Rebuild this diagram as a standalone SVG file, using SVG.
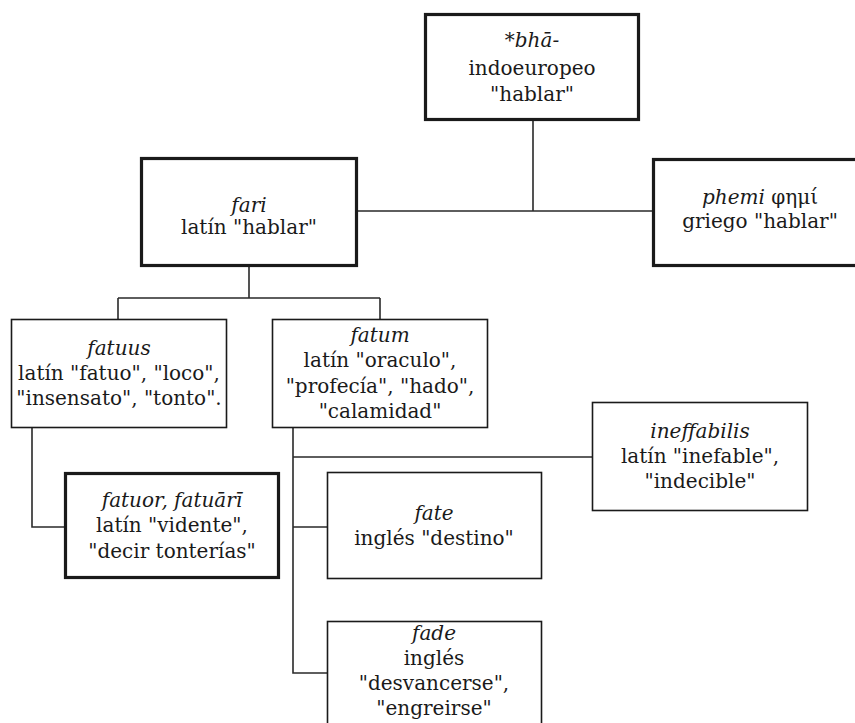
<svg xmlns="http://www.w3.org/2000/svg" width="855" height="723" viewBox="0 0 855 723">
<style>
.box{fill:#fff;stroke:#1a1a1a;stroke-width:1.6}
.thick{stroke-width:3.2}
.ln{fill:none;stroke:#2a2a2a;stroke-width:1.6}
text{font-family:"DejaVu Serif","Liberation Serif",serif;font-size:20px;fill:#1a1a1a;text-anchor:middle}
.i{font-style:italic}
</style>
<rect width="855" height="723" fill="#fff"/>
<g id="connectors">
<path class="ln" d="M533 121V211M358 211H652"/>
<path class="ln" d="M249 267V298M118 298H380M118 298V319M380 298V319"/>
<path class="ln" d="M32 428V527H64"/>
<path class="ln" d="M293 428V673H327M293 457H592M293 527H327"/>
</g>
<g id="n-bha">
<rect class="box thick" x="425.5" y="14.5" width="213" height="105"/>
<text x="532" y="47"><tspan class="i">*bhā-</tspan></text>
<text x="532" y="75">indoeuropeo</text>
<text x="532" y="101">"hablar"</text>
</g>
<g id="n-fari">
<rect class="box thick" x="141.5" y="158.5" width="215" height="107"/>
<text x="249" y="212" class="i">fari</text>
<text x="249" y="234">latín "hablar"</text>
</g>
<g id="n-phemi">
<rect class="box thick" x="653.5" y="159.5" width="214" height="106"/>
<text x="760" y="204"><tspan class="i">phemi</tspan> φημί</text>
<text x="760" y="228">griego "hablar"</text>
</g>
<g id="n-fatuus">
<rect class="box" x="11.5" y="319.5" width="215" height="108"/>
<text x="119" y="355" class="i">fatuus</text>
<text x="119" y="380">latín "fatuo", "loco",</text>
<text x="119" y="405">"insensato", "tonto".</text>
</g>
<g id="n-fatum">
<rect class="box" x="272.5" y="319.5" width="215" height="108"/>
<text x="380" y="342" class="i">fatum</text>
<text x="380" y="367">latín "oraculo",</text>
<text x="380" y="393">"profecía", "hado",</text>
<text x="380" y="418">"calamidad"</text>
</g>
<g id="n-ineffabilis">
<rect class="box" x="592.5" y="402.5" width="215" height="108"/>
<text x="700" y="438" class="i">ineffabilis</text>
<text x="700" y="463">latín "inefable",</text>
<text x="700" y="488">"indecible"</text>
</g>
<g id="n-fatuor">
<rect class="box thick" x="65.5" y="473.5" width="213" height="104"/>
<text x="172" y="507" class="i">fatuor, fatuārī</text>
<text x="172" y="532">latín "vidente",</text>
<text x="172" y="558">"decir tonterías"</text>
</g>
<g id="n-fate">
<rect class="box" x="327.5" y="472.5" width="214" height="106"/>
<text x="434" y="520" class="i">fate</text>
<text x="434" y="545">inglés "destino"</text>
</g>
<g id="n-fade">
<rect class="box" x="327.5" y="621.5" width="214" height="120"/>
<text x="434" y="640" class="i">fade</text>
<text x="434" y="665">inglés</text>
<text x="434" y="690">"desvancerse",</text>
<text x="434" y="715">"engreirse"</text>
</g>
</svg>
